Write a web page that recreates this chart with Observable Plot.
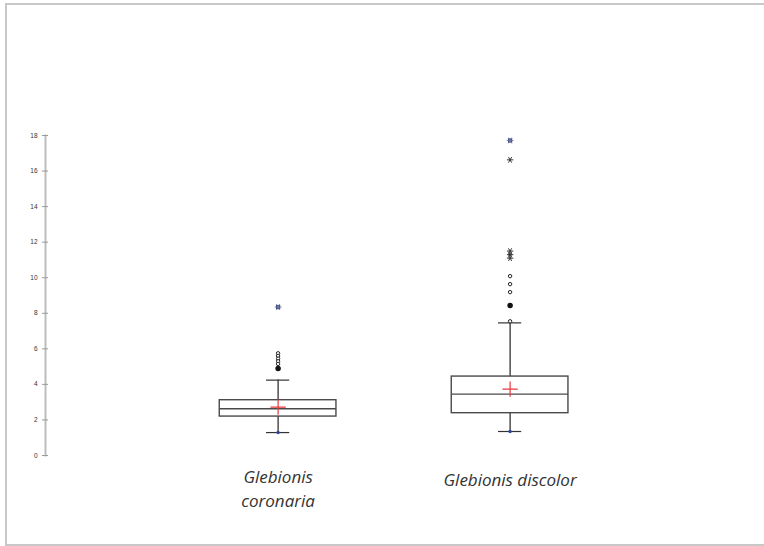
<!DOCTYPE html>
<html>
<head>
<meta charset="utf-8">
<script src="https://cdn.jsdelivr.net/npm/d3@7"></script>
<script src="https://cdn.jsdelivr.net/npm/@observablehq/plot@0.6"></script>
<style>
  html, body { margin: 0; padding: 0; background: #fff; overflow: hidden; }
  #wrap { position: relative; width: 764px; height: 546px; }
  #border { position: absolute; left: 5px; top: 3px; width: 800px; height: 539px; border: 2px solid #c8c8c8; box-sizing: content-box; }
  #chart { position: absolute; left: 0; top: 0; }
</style>
</head>
<body>
<div id="wrap"><div id="border"></div><div id="chart"></div></div>
<script>
// ---- data ----
const categories = ["Glebionis\ncoronaria", "Glebionis discolor"];
const q1 = [2.19, 2.38];
const median = [2.63, 3.45];
const q3 = [3.11, 4.44];
const mean = [2.72, 3.73];
const whiskerLow = [1.29, 1.35];
const whiskerHigh = [4.24, 7.46];
const yTicks = [0, 2, 4, 6, 8, 10, 12, 14, 16, 18];

// outliers: category index, value, kind (open circle, filled circle, star, blue star = max)
const outlierCat   = [0, 0, 0, 0, 0, 0, 0,     1, 1, 1, 1, 1, 1, 1, 1, 1, 1];
const outlierValue = [5.75, 5.6, 5.45, 5.3, 5.15, 4.9, 8.35,
                      7.55, 8.44, 9.19, 9.64, 10.09, 11.1, 11.3, 11.5, 16.63, 17.72];
const outlierKind  = ["open","open","open","open","open","filled","max",
                      "open","filled","open","open","open","star","star","star","star","max"];

// ---- build tables ----
const boxes = categories.map((c, i) => ({
  i, name: c, q1: q1[i], median: median[i], q3: q3[i], mean: mean[i],
  lo: whiskerLow[i], hi: whiskerHigh[i]
}));
const outliers = outlierValue.map((v, k) => ({ i: outlierCat[k], v, kind: outlierKind[k] }));

const half = 0.2515;   // half box width in x units
const cap = 0.05;      // half whisker-cap width

const plot = Plot.plot({
  width: 764,
  height: 546,
  marginLeft: 45,
  marginRight: 24,
  marginTop: 135,
  marginBottom: 91,
  style: { background: "transparent", fontFamily: "Arial, sans-serif" },
  x: { domain: [0, 1], range: [277.6, 509.6], axis: null },
  y: { domain: [0, 18], axis: null },
  marks: [
    Plot.frame({ anchor: "left", stroke: "#bdbdbd", strokeWidth: 2 }),
    Plot.axisY({ ticks: yTicks, tickSize: 6, dx: 3, tickPadding: 5, fontSize: 6.5, stroke: "#9a9a9a", fill: "#333", tickFormat: d => d }),
    // whiskers
    Plot.ruleX(boxes, { x: "i", y1: "q3", y2: "hi", stroke: "#222", strokeWidth: 1.2 }),
    Plot.ruleX(boxes, { x: "i", y1: "lo", y2: "q1", stroke: "#222", strokeWidth: 1.2 }),
    Plot.ruleY(boxes, { y: "hi", x1: d => d.i - cap, x2: d => d.i + cap, stroke: "#333", strokeWidth: 1.2 }),
    Plot.ruleY(boxes, { y: "lo", x1: d => d.i - cap, x2: d => d.i + cap, stroke: "#333", strokeWidth: 1.2 }),
    // boxes
    Plot.rect(boxes, { x1: d => d.i - half, x2: d => d.i + half, y1: "q1", y2: "q3", fill: "white", stroke: "#4a4a4a", strokeWidth: 1.4 }),
    Plot.ruleY(boxes, { y: "median", x1: d => d.i - half, x2: d => d.i + half, stroke: "#4a4a4a", strokeWidth: 1.4 }),
    // mean
    Plot.dot(boxes, { x: "i", y: "mean", symbol: "plus", r: 5, stroke: "#e8383d", strokeWidth: 1.2 }),
    // minimum marker
    Plot.dot(boxes, { x: "i", y: "lo", symbol: "circle", r: 1.7, fill: "#2c45a0", stroke: "none" }),
    // outliers
    Plot.dot(outliers.filter(d => d.kind === "open"), { x: "i", y: "v", r: 1.7, fill: "white", stroke: "#222", strokeWidth: 1 }),
    Plot.dot(outliers.filter(d => d.kind === "filled"), { x: "i", y: "v", r: 2, fill: "#111", stroke: "#111" }),
    Plot.dot(outliers.filter(d => d.kind === "star"), { x: "i", y: "v", symbol: "asterisk", rotate: 90, r: 3, stroke: "#333", strokeWidth: 1 }),
    Plot.dot(outliers.filter(d => d.kind === "max"), { x: "i", y: "v", symbol: "square", r: 2.4, fill: "#2c45a0", stroke: "none" }),
    Plot.dot(outliers.filter(d => d.kind === "max"), { x: "i", y: "v", symbol: "asterisk", rotate: 90, r: 3.2, stroke: "#7a7a8a", strokeWidth: 0.9 }),
    // category labels
    Plot.text(boxes.filter(d => d.i === 0), { x: "i", text: "name", frameAnchor: "bottom", lineAnchor: "top", dy: 10, lineHeight: 1.42,
      fontSize: 17, fontStyle: "italic", fontFamily: "Open Sans", fill: "#333" }),
    Plot.text(boxes.filter(d => d.i === 1), { x: "i", text: "name", frameAnchor: "bottom", lineAnchor: "top", dy: 18,
      fontSize: 17, fontStyle: "italic", fontFamily: "Open Sans", fill: "#333" })
  ]
});
document.getElementById("chart").appendChild(plot);
</script>
</body>
</html>
